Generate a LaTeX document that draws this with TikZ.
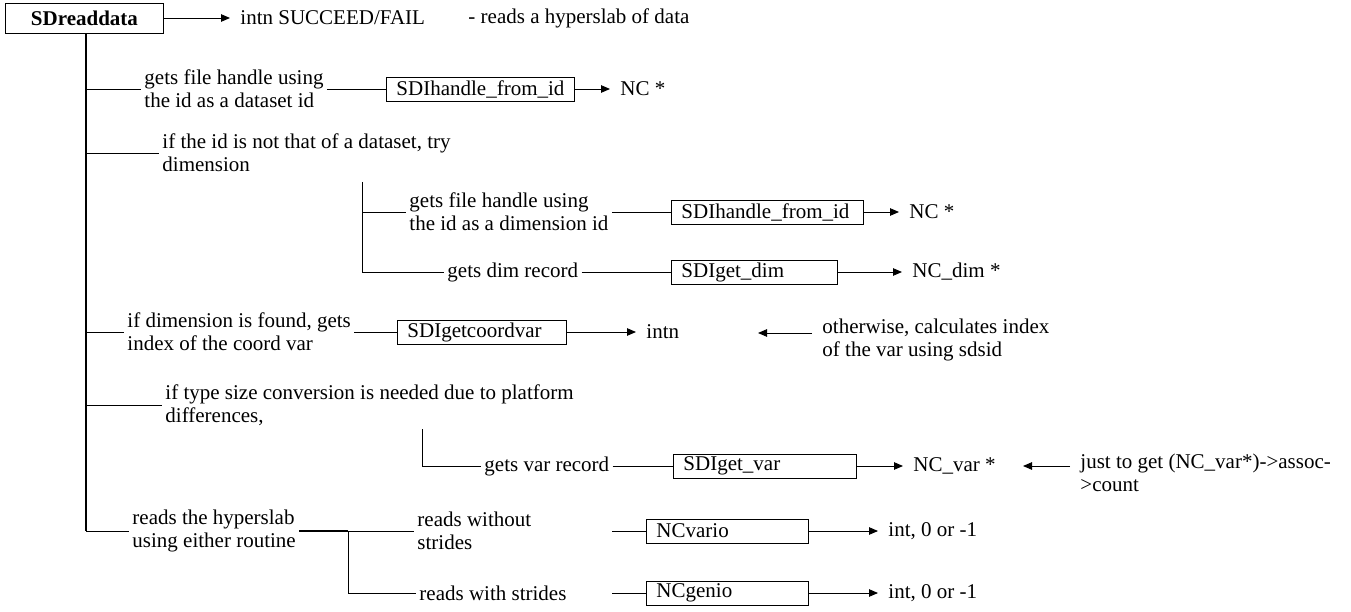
\documentclass[tikz,border=0pt]{standalone}
\usepackage{fontspec}
\setmainfont{Liberation Serif}[Ligatures=NoCommon]
\usetikzlibrary{arrows.meta}

\tikzset{
	fnbox/.style={draw, anchor=west, inner xsep=10pt, inner ysep=0pt, minimum height=24pt, text width=#1, align=left},
	note/.style={anchor=west, inner xsep=3pt, inner ysep=0pt, align=left},
	retval/.style={anchor=west, inner xsep=10pt, inner ysep=0pt, align=left},
	ret/.style={-{Triangle[length=9pt,width=7.5pt]}},
}

\begin{document}
\begin{tikzpicture}[x=1pt, y=-1pt, font=\fontsize{21}{23}\selectfont, line width=0.9pt]
		\useasboundingbox (0,0) rectangle (1351,612);

		\node[draw, anchor=west, minimum width=158pt, minimum height=30pt, inner sep=0pt, font=\fontsize{21}{23}\selectfont\bfseries] (sdread) at (5,18) {SDreaddata};
		\node[retval] (r0) at (230,18) {intn SUCCEED/FAIL};
		\node[note] (desc) at (465,18) {- reads a hyperslab of data};

		\coordinate (j1) at (86,89);
		\coordinate (j2) at (86,153);
		\coordinate (j3) at (86,332);
		\coordinate (j4) at (86,405);
		\coordinate (j5) at (86,531);

		\node[note] (c1) at (141,89) {gets file handle using\\the id as a dataset id};
		\node[fnbox=168pt] (h1) at (386,89) {SDIhandle\_from\_id};
		\node[retval] (r1) at (610,89) {NC *};

		\node[note] (c2) at (159,153) {if the id is not that of a dataset, try\\dimension};
		\coordinate (k2) at (362,182);
		\coordinate (j2a) at (362,212);
		\node[note] (c2a) at (406,212) {gets file handle using\\the id as a dimension id};
		\node[fnbox=172pt] (h2) at (671,212) {SDIhandle\_from\_id};
		\node[retval] (r2a) at (899,212) {NC *};
		\node[note] (c2b) at (444,272) {gets dim record};
		\node[fnbox=146pt] (gd) at (671,272) {SDIget\_dim};
		\node[retval] (r2b) at (902,272) {NC\_dim *};

		\node[note] (c3) at (124,332) {if dimension is found, gets\\index of the coord var};
		\node[fnbox=149pt] (gc) at (397,332) {SDIgetcoordvar};
		\node[retval] (r3) at (636,332) {intn};
		\node[retval] (o3) at (812,340) {otherwise, calculates index\\of the var using sdsid};
		\coordinate (t3) at (758,333);

		\node[note] (c4) at (162,405) {if type size conversion is needed due to platform\\differences,};
		\coordinate (k4) at (422,429);
		\node[note] (c4a) at (481,466) {gets var record};
		\node[fnbox=163pt] (gv) at (673,466) {SDIget\_var};
		\node[retval] (r4) at (903,466) {NC\_var *};
		\node[retval] (o4) at (1070,473) {just to get (NC\_var*)->assoc-\\>count};
		\coordinate (t4) at (1023,466);

		\node[note] (c5) at (129,531) {reads the hyperslab\\using either routine};
		\coordinate (k5) at (348,531);
		\node[note] (c5a) at (414,531) {reads without\\strides};
		\node[note] (c5b) at (416,593) {reads with strides};
		\coordinate (s5a) at (612,531);
		\coordinate (s5b) at (612,593);
		\node[fnbox=142pt] (vario) at (646,531) {NCvario};
		\node[fnbox=142pt] (genio) at (646,593) {NCgenio};
		\node[retval] (r5a) at (878,531) {int, 0 or -1};
		\node[retval] (r5b) at (878,593) {int, 0 or -1};

		\draw[ret] (sdread) -- (r0);
		\draw[line width=1.5pt] (j1 |- sdread.south) -- (j5);

		\draw (j1) -- (c1);
		\draw (c1) -- (h1);
		\draw[ret] (h1) -- (r1);

		\draw (j2) -- (c2);
		\draw (j2a) -- (c2a);
		\draw (c2a) -- (h2);
		\draw[ret] (h2) -- (r2a);
		\draw (k2) |- (c2b);
		\draw (c2b) -- (gd);
		\draw[ret] (gd) -- (r2b);

		\draw (j3) -- (c3);
		\draw (c3) -- (gc);
		\draw[ret] (gc) -- (r3);
		\draw[ret] (o3.west |- t3) -- (t3);

		\draw (j4) -- (c4);
		\draw (k4) |- (c4a);
		\draw (c4a) -- (gv);
		\draw[ret] (gv) -- (r4);
		\draw[ret] (o4.west |- t4) -- (t4);

		\draw (j5) -- (c5);
		\draw[line width=1.6pt] (c5) -- (k5);
		\draw (k5) -- (c5a);
		\draw (k5) |- (c5b);
		\draw (s5a) -- (vario);
		\draw (s5b) -- (genio);
		\draw[ret] (vario) -- (r5a);
		\draw[ret] (genio) -- (r5b);
	\end{tikzpicture}
\end{document}
